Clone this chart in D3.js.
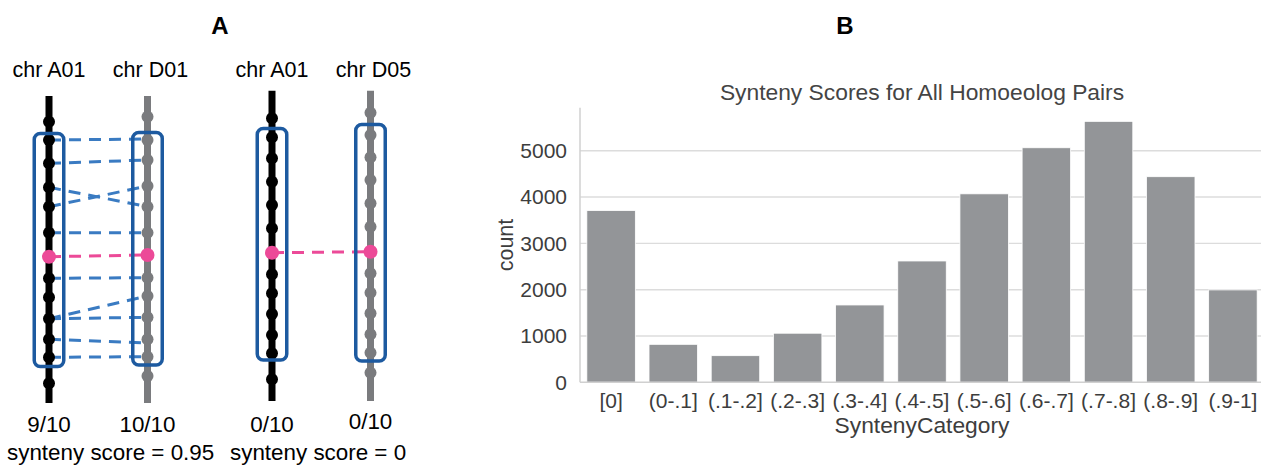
<!DOCTYPE html>
<html>
<head>
<meta charset="utf-8">
<script src="https://cdn.jsdelivr.net/npm/d3@7"></script>
<style>
  html, body { margin: 0; padding: 0; background: #fff; }
  svg { display: block; font-family: "Liberation Sans", Arial, Helvetica, sans-serif; }
</style>
</head>
<body>
<svg id="chart" width="1261" height="468"></svg>
<script>
// ---------------- Panel B data ----------------
const categories = ["[0]", "(0-.1]", "(.1-.2]", "(.2-.3]", "(.3-.4]", "(.4-.5]",
                    "(.5-.6]", "(.6-.7]", "(.7-.8]", "(.8-.9]", "(.9-1]"];
const counts = [3710, 820, 575, 1060, 1670, 2620, 4070, 5065, 5635, 4440, 1995];
const yTicks = [0, 1000, 2000, 3000, 4000, 5000];
const yMax = 5930;

// ---------------- Panel A data (positions in Mb along chromosome) ----------------
const chrNames = ["chr A01", "chr D01", "chr A01", "chr D05"];
const chrPair = [0, 0, 1, 1];
const chrSub = ["A", "D", "A", "D"];
const chrStart = [0.6, 0.6, 0.07, 0.07];
const chrEnd = [31.3, 31.3, 31.1, 31.1];
const genes = [
  [3.17, 5.0, 7.33, 9.73, 11.67, 14.27, 18.83, 20.73, 22.87, 24.93, 26.73, 29.33],
  [2.67, 5.0, 7.0, 9.6, 11.67, 14.27, 18.77, 20.6, 22.73, 24.93, 26.67, 28.6],
  [2.83, 4.73, 6.83, 9.17, 11.5, 13.83, 18.43, 20.33, 22.4, 24.5, 26.33, 28.93],
  [2.27, 4.5, 6.73, 9.0, 11.33, 13.67, 18.33, 20.27, 22.33, 24.43, 26.27, 28.27]
];
const focalGene = [16.67, 16.5, 16.27, 16.17];
const windowStart = [4.34, 4.24, 3.84, 3.44];
const windowEnd = [27.65, 27.5, 27.0, 27.1];
const linkFrom = [5.0, 7.33, 9.73, 11.67, 14.27, 18.83, 22.87, 22.87, 24.93, 26.73];
const linkTo   = [4.9, 7.0, 11.67, 9.6, 14.27, 18.77, 20.6, 22.73, 25.3, 26.67];
const fractions = ["9/10", "10/10", "0/10", "0/10"];
const scores = ["synteny score = 0.95", "synteny score = 0"];

const colA = "#000000", colD = "#7a7b7e", pink = "#ec4a98",
      boxBlue = "#1d5aa0", linkBlue = "#3a7bc2";

const svg = d3.select("#chart");

// ================= Panel A =================
const gA = svg.append("g");
const posScale = d3.scaleLinear().domain([0, 31.3]).range([90, 403]);
const pairX = d3.scalePoint().domain([0, 1]).range([49, 272]);
const chrX = d3.scalePoint().domain(["A", "D"]).range([0, 98.5]);
const cx = i => pairX(chrPair[i]) + chrX(chrSub[i]);

gA.append("text").attr("x", 220).attr("y", 34).attr("text-anchor", "middle")
  .attr("font-size", 24).attr("font-weight", "bold").text("A");

// links (pair 0)
gA.selectAll("line.link").data(linkFrom).join("line").attr("class", "link")
  .attr("x1", cx(0)).attr("x2", cx(1))
  .attr("y1", d => posScale(d)).attr("y2", (d, i) => posScale(linkTo[i]))
  .attr("stroke", linkBlue).attr("stroke-width", 3).attr("stroke-dasharray", "12,8");

// focal pink links
[0, 1].forEach(p => {
  const a = p * 2, b = p * 2 + 1;
  gA.append("line")
    .attr("x1", cx(a)).attr("x2", cx(b))
    .attr("y1", posScale(focalGene[a])).attr("y2", posScale(focalGene[b]))
    .attr("stroke", pink).attr("stroke-width", 3).attr("stroke-dasharray", "12,8");
});

// chromosomes
chrNames.forEach((name, i) => {
  const col = chrSub[i] === "A" ? colA : colD;
  gA.append("line")
    .attr("x1", cx(i)).attr("x2", cx(i))
    .attr("y1", posScale(chrStart[i])).attr("y2", posScale(chrEnd[i]))
    .attr("stroke", col).attr("stroke-width", 7);
  gA.selectAll(null).data(genes[i]).join("circle")
    .attr("cx", cx(i)).attr("cy", d => posScale(d)).attr("r", 6).attr("fill", col);
  gA.append("circle").attr("cx", cx(i)).attr("cy", posScale(focalGene[i]))
    .attr("r", 7).attr("fill", pink);
  gA.append("rect")
    .attr("x", cx(i) - 14.75).attr("width", 29.5)
    .attr("y", posScale(windowStart[i]))
    .attr("height", posScale(windowEnd[i]) - posScale(windowStart[i]))
    .attr("rx", 6).attr("fill", "none").attr("stroke", boxBlue).attr("stroke-width", 3.5);
  gA.append("text").attr("x", cx(i) + (chrSub[i] === "D" ? 3 : 0)).attr("y", 76.5).attr("text-anchor", "middle")
    .attr("font-size", 21.5).attr("fill", "#000").text(name);
  gA.append("text").attr("x", cx(i)).attr("y", i === 3 ? 428.5 : 431.5).attr("text-anchor", "middle")
    .attr("font-size", 22.4).attr("fill", "#000").text(fractions[i]);
});
scores.forEach((s, p) => {
  gA.append("text").attr("x", pairX(p) - 42).attr("y", 460)
    .attr("font-size", 22.4).attr("fill", "#000").text(s);
});

// ================= Panel B =================
const gB = svg.append("g");
const x = d3.scaleBand().domain(categories).range([580, 1264])
  .paddingInner(0.22).paddingOuter(0.11);
const y = d3.scaleLinear().domain([0, yMax]).range([382.3, 107.7]);

gB.append("text").attr("x", 845).attr("y", 34).attr("text-anchor", "middle")
  .attr("font-size", 24).attr("font-weight", "bold").text("B");

// grid
gB.selectAll("line.grid").data(yTicks.filter(t => t > 0)).join("line").attr("class", "grid")
  .attr("x1", 580).attr("x2", 1261).attr("y1", d => y(d)).attr("y2", d => y(d))
  .attr("stroke", "#dcdcdc").attr("stroke-width", 1.4);

// bars
gB.selectAll("rect.bar").data(counts).join("rect").attr("class", "bar")
  .attr("x", (d, i) => x(categories[i])).attr("width", x.bandwidth())
  .attr("y", d => y(d)).attr("height", d => y(0) - y(d))
  .attr("fill", "#939598").attr("stroke", "#ffffff").attr("stroke-width", 0.8);

// spines
gB.append("line").attr("x1", 580).attr("x2", 580).attr("y1", y(yMax)).attr("y2", y(0))
  .attr("stroke", "#d0d0d0").attr("stroke-width", 1.5);
gB.append("line").attr("x1", 580).attr("x2", 1261).attr("y1", y(0)).attr("y2", y(0))
  .attr("stroke", "#d0d0d0").attr("stroke-width", 1.5);

// axes
const yAxis = gB.append("g").attr("transform", "translate(580,0)")
  .call(d3.axisLeft(y).tickValues(yTicks).tickSize(0).tickPadding(13).tickFormat(d3.format("d")));
yAxis.select(".domain").remove();
yAxis.selectAll("text").attr("font-size", 21).attr("fill", "#3d3d3d")
  .attr("font-family", "'Liberation Sans', Arial, sans-serif");

const xAxis = gB.append("g").attr("transform", `translate(0,${y(0)})`)
  .call(d3.axisBottom(x).tickSize(0).tickPadding(11));
xAxis.select(".domain").remove();
xAxis.selectAll("text").attr("font-size", 21).attr("fill", "#3d3d3d")
  .attr("font-family", "'Liberation Sans', Arial, sans-serif");

// labels
gB.append("text").attr("x", 922).attr("y", 100).attr("text-anchor", "middle")
  .attr("font-size", 22.8).attr("fill", "#444").text("Synteny Scores for All Homoeolog Pairs");
gB.append("text").attr("x", 922).attr("y", 433).attr("text-anchor", "middle")
  .attr("font-size", 22.8).attr("fill", "#3d3d3d").text("SyntenyCategory");
gB.append("text").attr("transform", `translate(513,${(y(0) + y(yMax)) / 2}) rotate(-90)`)
  .attr("text-anchor", "middle").attr("font-size", 21.5).attr("fill", "#3d3d3d").text("count");
</script>
</body>
</html>
